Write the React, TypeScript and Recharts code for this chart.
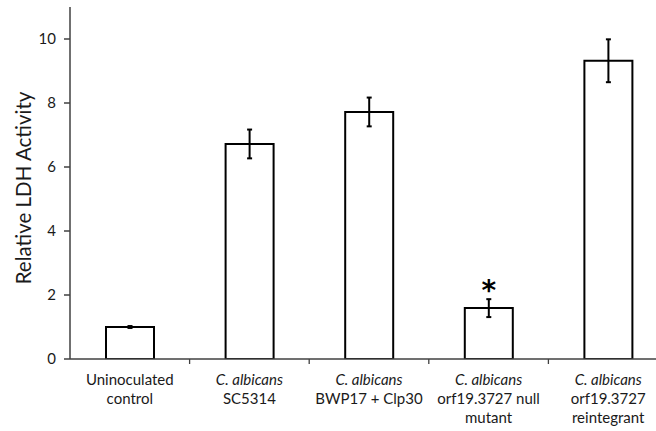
import React from 'react';
import { BarChart, Bar, XAxis, YAxis, ErrorBar, LabelList } from 'recharts';

const CATEGORIES = [
  'Uninoculated control',
  'C. albicans SC5314',
  'C. albicans BWP17 + Clp30',
  'C. albicans orf19.3727 null mutant',
  'C. albicans orf19.3727 reintegrant',
];
const TICK_LINES = [
  ['Uninoculated', 'control'],
  ['C. albicans', 'SC5314'],
  ['C. albicans', 'BWP17 + Clp30'],
  ['C. albicans', 'orf19.3727 null', 'mutant'],
  ['C. albicans', 'orf19.3727', 'reintegrant'],
];
const LDH_ACTIVITY = [1.0, 6.72, 7.72, 1.59, 9.32];
const LDH_ERROR = [0.03, 0.45, 0.45, 0.28, 0.67];
const SIGNIFICANCE = ['', '', '', '*', ''];
const Y_TICKS = [0, 2, 4, 6, 8, 10];

const data = CATEGORIES.map((name, i) => ({
  name,
  value: LDH_ACTIVITY[i],
  err: LDH_ERROR[i],
  sig: SIGNIFICANCE[i],
}));

const CHART_W = 680;
const CHART_H = 431;
const MARGIN = { top: 7, right: 12, bottom: 0, left: 0 };
const Y_AXIS_W = 70;
const BAND = (CHART_W - MARGIN.left - MARGIN.right - Y_AXIS_W) / CATEGORIES.length;
const FONT = 'Lato, "Open Sans", sans-serif';
const TEXT = '#1a1a1a';

const CategoryTick = (props: any) => {
  const { x, y, payload } = props;
  const idx = CATEGORIES.indexOf(payload.value);
  const lines = TICK_LINES[idx] || [];
  const axisY = y - 5;
  return (
    <g>
      {idx < CATEGORIES.length - 1 && (
        <line x1={x + BAND / 2} x2={x + BAND / 2} y1={axisY} y2={axisY + 5} stroke="#404040" strokeWidth={1.3} />
      )}
      <text x={x} y={axisY} textAnchor="middle" fontFamily={FONT} fontSize={15} fill={TEXT}>
        {lines.map((ln, i) => (
          <tspan key={i} x={x} y={axisY + 26 + i * 19} fontStyle={ln === 'C. albicans' ? 'italic' : 'normal'}>
            {ln}
          </tspan>
        ))}
      </text>
    </g>
  );
};

const renderStar = (props: any) => {
  const { x, y, width, value } = props;
  if (!value) return null;
  return (
    <text x={x + width / 2} y={y - 8} textAnchor="middle" fontFamily="DejaVu Sans" fontWeight="bold" fontSize={28} fill="#000">
      {value}
    </text>
  );
};

const renderYLabel = (props: any) => {
  const vb = props.viewBox || { x: 0, y: 0, height: 0 };
  const cx = vb.x + 23;
  const cy = vb.y + vb.height / 2 + 5;
  return (
    <text x={cx} y={cy} transform={`rotate(-90 ${cx} ${cy})`} textAnchor="middle" dominantBaseline="central" fontFamily={FONT} fontSize={20.5} fill={TEXT}>
      Relative LDH Activity
    </text>
  );
};

export default function App() {
  return (
    <div style={{ position: 'absolute', left: 0, top: 0, width: 656, height: 431, overflow: 'hidden', background: '#fff' }}>
      <BarChart width={CHART_W} height={CHART_H} data={data} margin={MARGIN} barSize={48}>
        <XAxis
          dataKey="name"
          interval={0}
          height={72}
          tickLine={false}
          tickSize={5}
          tickMargin={0}
          axisLine={{ stroke: '#404040', strokeWidth: 1.5 }}
          tick={<CategoryTick />}
        />
        <YAxis
          width={Y_AXIS_W}
          domain={[0, 11]}
          ticks={Y_TICKS}
          allowDataOverflow
          tickSize={6}
          tickMargin={8}
          axisLine={{ stroke: '#404040', strokeWidth: 1.5 }}
          tickLine={{ stroke: '#404040', strokeWidth: 1.5 }}
          tick={{ fontFamily: FONT, fontSize: 15, fill: TEXT }}
          label={{ content: renderYLabel }}
        />
        <Bar dataKey="value" fill="#fff" stroke="#000" strokeWidth={2} isAnimationActive={false}>
          <ErrorBar dataKey="err" width={2.5} stroke="#000" strokeWidth={2} />
          <LabelList dataKey="sig" content={renderStar} />
        </Bar>
      </BarChart>
    </div>
  );
}
